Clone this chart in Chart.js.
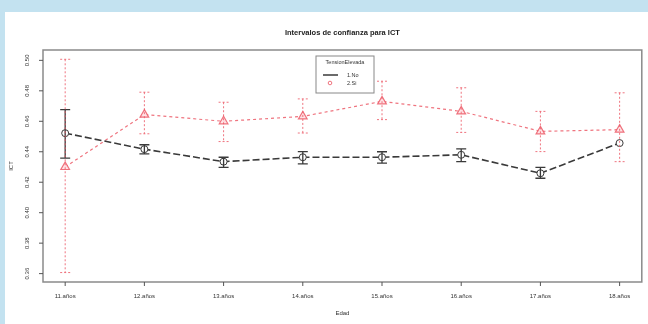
<!DOCTYPE html>
<html>
<head>
<meta charset="utf-8">
<script src="https://cdn.jsdelivr.net/npm/chart.js@4"></script>
<style>
  html, body { margin: 0; padding: 0; }
  body { width: 648px; height: 324px; background: #c3e2f0; overflow: hidden; position: relative; }
  #panel { position: absolute; left: 5px; top: 12px; width: 643px; height: 312px; background: #fff; }
  #chart { display: block; }
</style>
</head>
<body>
<div id="panel"><canvas id="chart" width="643" height="312"></canvas></div>
<script>
// categories and values
const edades = ['11.años', '12.años', '13.años', '14.años', '15.años', '16.años', '17.años', '18.años'];
const yTicks = [0.36, 0.38, 0.40, 0.42, 0.44, 0.46, 0.48, 0.50];

const noMedia = [0.4522, 0.4417, 0.4335, 0.4364, 0.4364, 0.4380, 0.4259, 0.4457];
const noAlto  = [0.4677, 0.4446, 0.4364, 0.4401, 0.4400, 0.4419, 0.4298, null];
const noBajo  = [0.4358, 0.4386, 0.4298, 0.4320, 0.4325, 0.4335, 0.4226, null];

const siMedia = [0.4300, 0.4644, 0.4600, 0.4632, 0.4731, 0.4665, 0.4534, 0.4545];
const siAlto  = [0.5007, 0.4791, 0.4725, 0.4747, 0.4863, 0.4820, 0.4665, 0.4787];
const siBajo  = [0.3607, 0.4518, 0.4467, 0.4523, 0.4611, 0.4527, 0.4401, 0.4335];

const negro = '#3a3a3a';
const rojo = 'rgba(236, 92, 104, 0.85)';
const fuente = '"Liberation Sans", Arial, sans-serif';

function puntos(valores) {
    return valores.map((v, i) => ({ x: i + 1, y: v }));
}

// intervalos de confianza, dibujados con las escalas del grafico
const barrasError = {
    id: 'barrasError',
    afterDatasetsDraw(chart) {
        const ctx = chart.ctx;
        const xs = chart.scales.x, ys = chart.scales.y;
        const grupos = [
            { alto: noAlto, bajo: noBajo, color: negro, dash: [], ancho: 1.3 },
            { alto: siAlto, bajo: siBajo, color: rojo, dash: [2, 2], ancho: 1 }
        ];
        ctx.save();
        grupos.forEach(g => {
            ctx.strokeStyle = g.color;
            ctx.lineWidth = g.ancho;
            g.alto.forEach((hi, i) => {
                if (hi === null) return;
                const x = xs.getPixelForValue(i + 1);
                const y1 = ys.getPixelForValue(hi);
                const y2 = ys.getPixelForValue(g.bajo[i]);
                ctx.setLineDash(g.dash);
                ctx.beginPath();
                ctx.moveTo(x, y1); ctx.lineTo(x, y2);
                ctx.moveTo(x - 5, y1); ctx.lineTo(x + 5, y1);
                ctx.moveTo(x - 5, y2); ctx.lineTo(x + 5, y2);
                ctx.stroke();
            });
        });
        ctx.restore();
    }
};

// ejes, textos y leyenda al estilo de R
const marco = {
    id: 'marco',
    afterDraw(chart) {
        const ctx = chart.ctx;
        const a = chart.chartArea;
        const xs = chart.scales.x, ys = chart.scales.y;
        ctx.save();
        ctx.strokeStyle = '#8a8a8a';
        ctx.lineWidth = 1.5;
        ctx.strokeRect(a.left, a.top, a.right - a.left, a.bottom - a.top);

        ctx.fillStyle = '#333';
        ctx.strokeStyle = '#555';
        ctx.lineWidth = 1;
        // eje x
        ctx.font = '6px ' + fuente;
        ctx.textAlign = 'center';
        ctx.textBaseline = 'middle';
        edades.forEach((e, i) => {
            const x = xs.getPixelForValue(i + 1);
            ctx.beginPath();
            ctx.moveTo(x, a.bottom); ctx.lineTo(x, a.bottom + 4);
            ctx.stroke();
            ctx.fillText(e, x, a.bottom + 14);
        });
        ctx.fillText('Edad', (a.left + a.right) / 2, a.bottom + 31);

        // eje y con etiquetas giradas
        yTicks.forEach(t => {
            const y = ys.getPixelForValue(t);
            ctx.beginPath();
            ctx.moveTo(a.left, y); ctx.lineTo(a.left - 4, y);
            ctx.stroke();
            ctx.save();
            ctx.translate(a.left - 16, y);
            ctx.rotate(-Math.PI / 2);
            ctx.fillText(t.toFixed(2), 0, 0);
            ctx.restore();
        });
        ctx.save();
        ctx.translate(a.left - 32, (a.top + a.bottom) / 2);
        ctx.rotate(-Math.PI / 2);
        ctx.fillText('ICT', 0, 0);
        ctx.restore();

        // titulo
        ctx.font = 'bold 7.5px ' + fuente;
        ctx.fillStyle = '#222';
        ctx.fillText('Intervalos de confianza para ICT', (a.left + a.right) / 2, 21);

        // leyenda
        const lx = 311, ly = 44, lw = 58, lh = 37;
        ctx.fillStyle = '#fff';
        ctx.fillRect(lx, ly, lw, lh);
        ctx.strokeStyle = '#888';
        ctx.strokeRect(lx, ly, lw, lh);
        ctx.fillStyle = '#333';
        ctx.font = '5.5px ' + fuente;
        ctx.fillText('TensionElevada', lx + lw / 2, ly + 6);
        ctx.textAlign = 'left';
        ctx.strokeStyle = negro;
        ctx.lineWidth = 1.5;
        ctx.beginPath();
        ctx.moveTo(lx + 7, ly + 19); ctx.lineTo(lx + 22, ly + 19);
        ctx.stroke();
        ctx.fillText('1.No', lx + 31, ly + 19);
        ctx.strokeStyle = rojo;
        ctx.lineWidth = 1;
        ctx.beginPath();
        ctx.arc(lx + 14, ly + 27, 1.8, 0, Math.PI * 2);
        ctx.stroke();
        ctx.fillText('2.Si', lx + 31, ly + 27);
        ctx.restore();
    }
};

new Chart(document.getElementById('chart'), {
    type: 'line',
    data: {
        datasets: [
            {
                label: '1.No',
                data: puntos(noMedia),
                borderColor: negro,
                borderWidth: 1.6,
                borderDash: [7, 3],
                pointStyle: 'circle',
                pointRadius: 3.5,
                pointBorderColor: negro,
                pointBackgroundColor: '#fff',
                pointBorderWidth: 1
            },
            {
                label: '2.Si',
                data: puntos(siMedia),
                borderColor: rojo,
                borderWidth: 1.2,
                borderDash: [3, 3],
                pointStyle: 'triangle',
                pointRadius: 5,
                pointBorderColor: rojo,
                pointBackgroundColor: 'rgba(255, 225, 228, 0.9)',
                pointBorderWidth: 1.2
            }
        ]
    },
    options: {
        responsive: false,
        animation: false,
        layout: { padding: { left: 38, right: 2, top: 38, bottom: 42 } },
        scales: {
            x: { type: 'linear', min: 0.72, max: 8.28, display: false },
            y: { type: 'linear', min: 0.3545, max: 0.5068, display: false }
        },
        plugins: {
            legend: { display: false },
            tooltip: { enabled: false }
        }
    },
    plugins: [barrasError, marco]
});
</script>
</body>
</html>
